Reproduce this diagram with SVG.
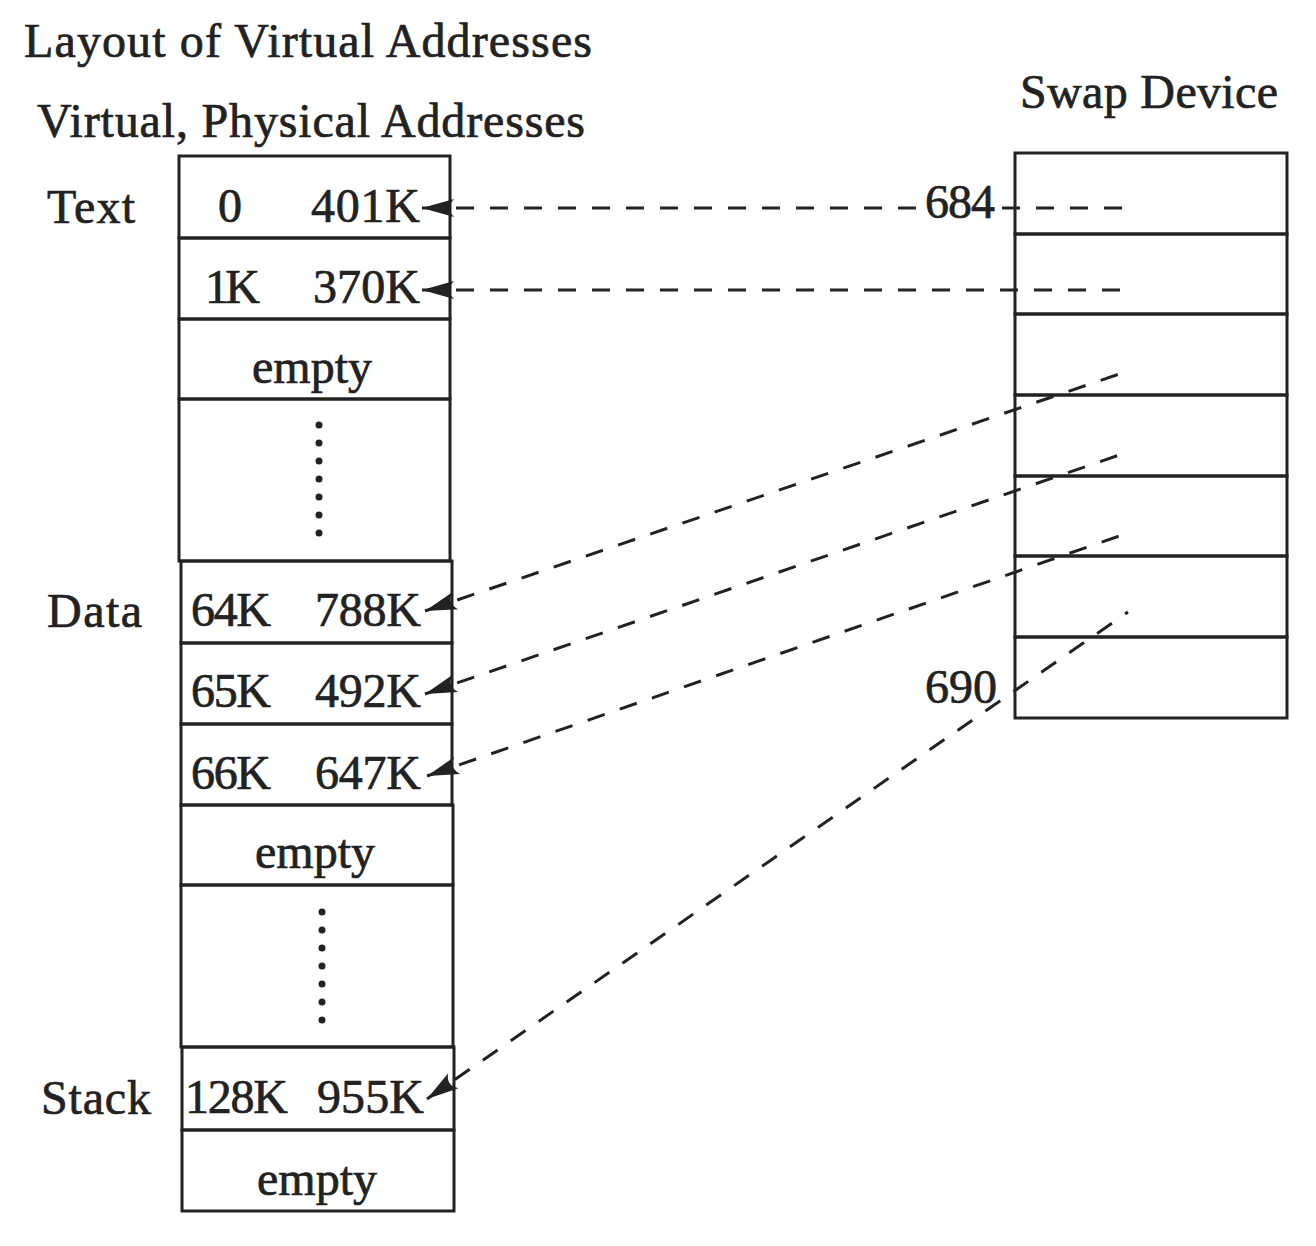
<svg xmlns="http://www.w3.org/2000/svg" width="1316" height="1246" viewBox="0 0 1316 1246">
<style>
text{font-family:"Liberation Serif","Times New Roman",serif;font-size:48px;fill:#222;stroke:#222;stroke-width:0.7}
.box{fill:none;stroke:#222;stroke-width:3}
.dash{fill:none;stroke:#222;stroke-width:3;stroke-dasharray:18 16}
.dot{fill:#222}
.mid{text-anchor:middle}
</style>
<defs>
<marker id="arr" markerUnits="userSpaceOnUse" markerWidth="40" markerHeight="30" refX="0" refY="15" viewBox="0 0 40 30" orient="auto">
<path d="M0,15 L32,6 Q23,15 32,24 Z" fill="#222"/>
</marker>
</defs>
<rect width="1316" height="1246" fill="#fff"/>
<g id="titles">
<text x="24" y="57" textLength="568">Layout of Virtual Addresses</text>
<text x="37" y="137" textLength="548">Virtual, Physical Addresses</text>
<text x="1020" y="108" textLength="258">Swap Device</text>
</g>
<g id="labels">
<text x="47" y="223" textLength="88">Text</text>
<text x="47" y="627" textLength="95">Data</text>
<text x="41" y="1114" textLength="110">Stack</text>
</g>
<g id="virtual-layout">
<g id="row-text0"><rect class="box" x="179" y="156" width="271" height="82"/><text x="218" y="222">0</text><text x="311" y="222" textLength="109">401K</text></g>
<g id="row-text1"><rect class="box" x="179" y="238" width="271" height="81"/><text x="205" y="303" textLength="55">1K</text><text x="313" y="303" textLength="107">370K</text></g>
<g id="row-empty1"><rect class="box" x="179" y="319" width="271" height="80"/><text x="312" y="383" class="mid">empty</text></g>
<g id="row-gap1"><rect class="box" x="179" y="399" width="271" height="162"/>
<circle class="dot" cx="319" cy="425" r="3.5"/><circle class="dot" cx="319" cy="443" r="3.5"/><circle class="dot" cx="319" cy="461" r="3.5"/><circle class="dot" cx="319" cy="479" r="3.5"/><circle class="dot" cx="319" cy="497" r="3.5"/><circle class="dot" cx="319" cy="515" r="3.5"/><circle class="dot" cx="319" cy="533" r="3.5"/></g>
<g id="row-data64"><rect class="box" x="181" y="561" width="271" height="82"/><text x="191" y="626" textLength="80">64K</text><text x="315" y="626" textLength="106">788K</text></g>
<g id="row-data65"><rect class="box" x="181" y="643" width="271" height="81"/><text x="191" y="707" textLength="80">65K</text><text x="315" y="707" textLength="106">492K</text></g>
<g id="row-data66"><rect class="box" x="181" y="724" width="271" height="81"/><text x="191" y="789" textLength="80">66K</text><text x="315" y="789" textLength="106">647K</text></g>
<g id="row-empty2"><rect class="box" x="181" y="805" width="272" height="80"/><text x="315" y="868" class="mid">empty</text></g>
<g id="row-gap2"><rect class="box" x="181" y="885" width="272" height="162"/>
<circle class="dot" cx="322" cy="912" r="3.5"/><circle class="dot" cx="322" cy="930" r="3.5"/><circle class="dot" cx="322" cy="948" r="3.5"/><circle class="dot" cx="322" cy="966" r="3.5"/><circle class="dot" cx="322" cy="984" r="3.5"/><circle class="dot" cx="322" cy="1002" r="3.5"/><circle class="dot" cx="322" cy="1020" r="3.5"/></g>
<g id="row-stack128"><rect class="box" x="182" y="1047" width="272" height="83"/><text x="185" y="1113" textLength="103">128K</text><text x="317" y="1113" textLength="107">955K</text></g>
<g id="row-empty3"><rect class="box" x="182" y="1130" width="272" height="81"/><text x="317" y="1195" class="mid">empty</text></g>
</g>
<g id="swap-device">
<rect class="box" x="1015" y="153" width="272" height="81"/>
<rect class="box" x="1015" y="234" width="272" height="80"/>
<rect class="box" x="1015" y="314" width="272" height="81"/>
<rect class="box" x="1015" y="395" width="272" height="81"/>
<rect class="box" x="1015" y="476" width="272" height="80"/>
<rect class="box" x="1015" y="556" width="272" height="81"/>
<rect class="box" x="1015" y="637" width="272" height="81"/>
<text x="925" y="218" textLength="70">684</text>
<text x="925" y="703" textLength="72">690</text>
</g>
<g id="connectors">
<path class="dash" d="M422,208 L920,208 M1002,208 L1128,208" marker-start="url(#arr)"/>
<path class="dash" d="M422,290 L1128,290" marker-start="url(#arr)"/>
<path class="dash" d="M425,611 L1128,371" marker-start="url(#arr)"/>
<path class="dash" d="M425,694 L1128,452" marker-start="url(#arr)"/>
<path class="dash" d="M427,776 L1128,533" marker-start="url(#arr)"/>
<path class="dash" d="M427,1099 L1128,612" marker-start="url(#arr)"/>
</g>
</svg>
